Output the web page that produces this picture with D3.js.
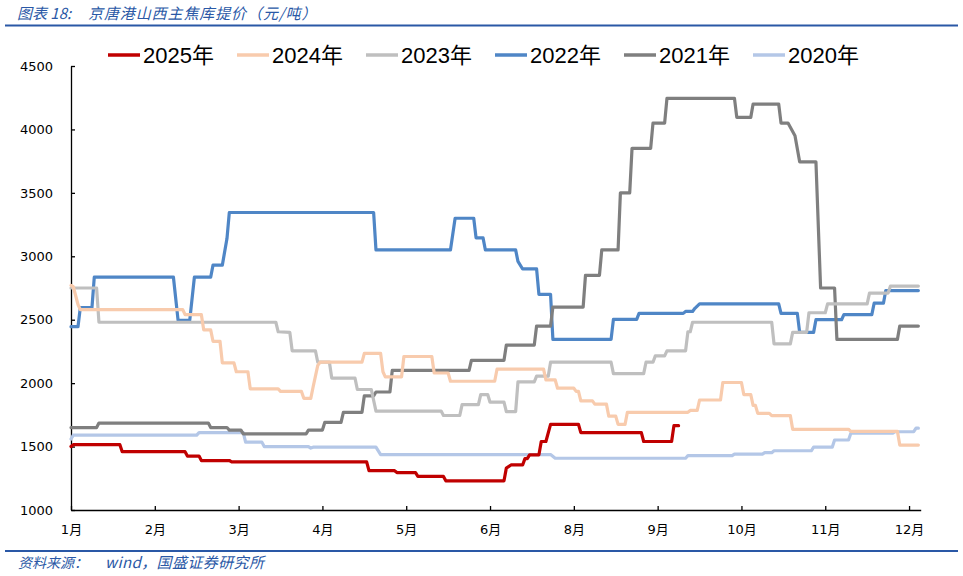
<!DOCTYPE html>
<html>
<head>
<meta charset="utf-8">
<script src="https://cdn.jsdelivr.net/npm/d3@7"></script>
<style>
  html, body { margin: 0; padding: 0; background: #fff; }
  svg { display: block; }
</style>
</head>
<body>
<svg id="chart" width="963" height="576"></svg>
<script>
// ---------- data (x = day of year, y = 元/吨) ----------
const titleParts = ["图表 18:", "京唐港山西主焦库提价（元/吨）"];
const sourceParts = ["资料来源：", "wind，国盛证券研究所"];
const seriesNames = ["2025年", "2024年", "2023年", "2022年", "2021年", "2020年"];
const seriesColors = ["#C00000", "#F8CBAD", "#BFBFBF", "#4F86C6", "#7F7F7F", "#B4C7E7"];
const xTickDays = [0, 36, 72, 108, 144, 180, 216, 252, 288, 324, 360];
const xTickLabels = ["1月", "2月", "3月", "4月", "5月", "6月", "8月", "9月", "10月", "11月", "12月"];
const yTicks = [1000, 1500, 2000, 2500, 3000, 3500, 4000, 4500];

const s2025 = [[0,1500],[1,1515],[21,1515],[22,1460],[49,1460],[50,1425],[55,1425],[56,1390],[68,1390],[69,1380],[127,1380],[128,1310],[139,1310],[140,1295],[148,1295],[149,1265],[160,1265],[161,1230],[186,1230],[187,1330],[189,1355],[194,1355],[195,1405],[196,1405],[197,1435],[201,1435],[202,1540],[204,1540],[206,1675],[218,1675],[219,1610],[245,1610],[246,1540],[258,1540],[259,1665],[261,1665]];

const s2024 = [[0,2770],[1,2760],[3,2620],[4,2580],[48,2580],[49,2540],[56,2540],[57,2420],[60,2420],[61,2330],[64,2330],[65,2160],[70,2160],[71,2090],[76,2090],[77,1955],[89,1955],[90,1935],[99,1935],[100,1880],[103,1880],[104,1970],[106,2140],[107,2165],[125,2165],[126,2235],[133,2235],[134,2090],[135,2050],[142,2050],[143,2210],[155,2210],[156,2080],[162,2080],[163,2015],[182,2015],[183,2110],[203,2110],[204,2025],[208,2025],[209,1960],[216,1960],[217,1935],[218,1935],[219,1860],[224,1860],[225,1835],[230,1835],[231,1740],[234,1740],[235,1675],[238,1675],[239,1770],[265,1770],[266,1785],[269,1785],[270,1867],[279,1867],[280,2005],[288,2005],[289,1910],[292,1910],[293,1825],[294,1825],[295,1762],[300,1762],[301,1744],[309,1744],[310,1636],[334,1636],[335,1620],[355,1620],[356,1512],[364,1512]];

const s2023 = [[0,2750],[11,2750],[12,2480],[88,2480],[89,2405],[94,2400],[95,2255],[105,2255],[106,2165],[111,2165],[112,2040],[122,2040],[123,1950],[129,1950],[131,1780],[159,1780],[160,1745],[167,1745],[168,1830],[175,1830],[176,1910],[179,1910],[180,1850],[186,1850],[187,1775],[191,1775],[192,2010],[199,2010],[200,2055],[205,2055],[206,2165],[232,2165],[233,2075],[246,2075],[247,2165],[250,2165],[251,2215],[255,2215],[256,2255],[264,2255],[265,2405],[266,2405],[267,2480],[301,2480],[302,2310],[309,2310],[310,2400],[316,2400],[317,2555],[324,2555],[325,2625],[342,2625],[343,2710],[351,2710],[352,2765],[364,2765]];

const s2022 = [[0,2445],[3,2445],[4,2595],[9,2595],[10,2835],[44,2835],[46,2495],[51,2495],[53,2835],[60,2835],[61,2930],[65,2930],[67,3140],[68,3345],[130,3345],[131,3050],[163,3050],[165,3300],[173,3300],[174,3145],[177,3145],[178,3050],[191,3050],[192,2960],[194,2900],[200,2900],[201,2700],[206,2700],[207,2345],[232,2345],[233,2503],[243,2503],[244,2550],[263,2550],[264,2565],[267,2565],[268,2590],[270,2625],[304,2625],[305,2550],[312,2550],[313,2400],[319,2400],[320,2500],[331,2500],[332,2540],[344,2540],[345,2630],[349,2630],[350,2730],[364,2730]];

const s2021 = [[0,1650],[11,1650],[12,1685],[59,1685],[60,1650],[67,1650],[68,1630],[73,1630],[74,1600],[101,1600],[102,1630],[108,1630],[109,1690],[116,1690],[117,1770],[125,1770],[126,1900],[130,1900],[131,1930],[137,1930],[138,2100],[171,2100],[172,2180],[186,2180],[187,2300],[199,2300],[200,2450],[206,2450],[207,2600],[220,2600],[221,2850],[227,2850],[228,3050],[235,3050],[236,3500],[240,3500],[241,3850],[249,3850],[250,4050],[255,4050],[256,4245],[285,4245],[286,4095],[292,4095],[293,4200],[304,4200],[305,4050],[308,4050],[311,3950],[313,3745],[320,3745],[322,2750],[328,2750],[329,2345],[355,2345],[356,2450],[364,2450]];

const s2020 = [[0,1560],[1,1590],[54,1590],[55,1610],[74,1610],[75,1535],[82,1535],[83,1500],[102,1500],[103,1488],[104,1495],[131,1495],[133,1437],[206,1437],[208,1408],[264,1408],[265,1428],[284,1428],[285,1440],[297,1440],[298,1452],[301,1452],[302,1467],[318,1467],[319,1495],[327,1495],[328,1552],[334,1552],[335,1605],[353,1605],[354,1617],[362,1617],[363,1645],[364,1645]];

const seriesData = [s2025, s2024, s2023, s2022, s2021, s2020];

// ---------- layout ----------
const svg = d3.select("#chart");
const plotLeft = 71, plotRight = 920.7, plotTop = 66, plotBottom = 510;

const x = d3.scaleLinear().domain([0, 365]).range([plotLeft, plotRight]);
const y = d3.scaleLinear().domain([1000, 4500]).range([plotBottom, plotTop]);

const blue = "#2A58A6";
const cjk = "'Noto Sans CJK SC', sans-serif";

// title
const title = svg.append("text")
  .attr("y", 19)
  .attr("font-family", cjk)
  .attr("font-size", 15).attr("font-style", "italic")
  .attr("fill", blue);
title.append("tspan").attr("x", 17).text(titleParts[0]);
title.append("tspan").attr("x", 88).attr("letter-spacing", 0.9).text(titleParts[1]);
svg.append("line")
  .attr("x1", 5).attr("x2", 958).attr("y1", 25.5).attr("y2", 25.5)
  .attr("stroke", blue).attr("stroke-width", 2);

// footer
svg.append("line")
  .attr("x1", 5).attr("x2", 958).attr("y1", 551).attr("y2", 551)
  .attr("stroke", blue).attr("stroke-width", 2);
const src = svg.append("text")
  .attr("y", 568)
  .attr("font-family", cjk)
  .attr("font-size", 14).attr("font-style", "italic")
  .attr("fill", blue);
src.append("tspan").attr("x", 18).text(sourceParts[0]);
src.append("tspan").attr("x", 105).attr("font-size", 15).attr("letter-spacing", 0.4).text(sourceParts[1]);

// axes
const yAxis = d3.axisLeft(y).tickValues(yTicks).tickFormat(d3.format("d"))
  .tickSizeInner(-4).tickSizeOuter(0).tickPadding(18);
const gy = svg.append("g").attr("transform", `translate(${plotLeft},0)`).call(yAxis);

const xAxis = d3.axisBottom(x).tickValues(xTickDays)
  .tickFormat((d, i) => xTickLabels[i])
  .tickSizeInner(-4).tickSizeOuter(0).tickPadding(15);
const gx = svg.append("g").attr("transform", `translate(0,${plotBottom})`).call(xAxis);

[gx, gy].forEach(g => {
  g.select(".domain").attr("stroke", "#000").attr("stroke-width", 1.3);
  g.selectAll(".tick line").attr("stroke", "#000").attr("stroke-width", 1.3);
  g.selectAll(".tick text")
    .attr("font-family", "'DejaVu Sans', 'Noto Sans CJK SC', sans-serif")
    .attr("font-size", 13).attr("fill", "#000");
});

// lines
const line = d3.line().x(d => x(d[0])).y(d => y(d[1]));
const drawOrder = [5, 3, 4, 2, 1, 0];
drawOrder.forEach(i => {
  svg.append("path")
    .datum(seriesData[i])
    .attr("fill", "none")
    .attr("stroke", seriesColors[i])
    .attr("stroke-width", 3.2)
    .attr("stroke-linejoin", "round")
    .attr("stroke-linecap", "round")
    .attr("d", line);
});

// legend
const legend = svg.append("g");
seriesNames.forEach((name, i) => {
  const lx = 108 + i * 129;
  legend.append("line")
    .attr("x1", lx).attr("x2", lx + 32).attr("y1", 55).attr("y2", 55)
    .attr("stroke", seriesColors[i]).attr("stroke-width", 3.5);
  legend.append("text")
    .attr("x", lx + 35).attr("y", 63)
    .attr("font-family", "'Liberation Sans', 'Noto Sans CJK SC', sans-serif")
    .attr("font-size", 22).attr("fill", "#000")
    .text(name);
});
</script>
</body>
</html>
